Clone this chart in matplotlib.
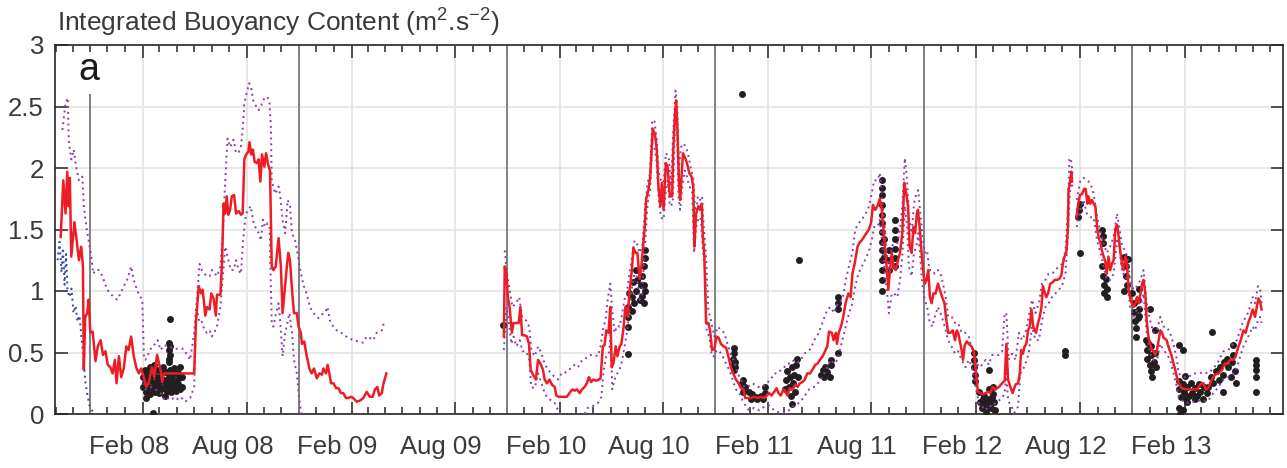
import numpy as np
import matplotlib
matplotlib.use("Agg")
import matplotlib.pyplot as plt
import matplotlib.dates as mdates
import matplotlib.transforms as mtransforms

plt.rcParams['font.family'] = ['Liberation Sans', 'DejaVu Sans']
plt.rcParams['mathtext.fontset'] = 'custom'
plt.rcParams['mathtext.rm'] = 'Liberation Sans'
plt.rcParams['mathtext.it'] = 'Liberation Sans'

# time axis: days since 2007-09-01
T0 = np.datetime64('2007-09-01')
NAN = np.nan

# red line: integrated buoyancy content (days, value)
red = np.array([
    [9, 1.44], [13.5, 1.90], [17.5, 1.63], [20.5, 1.97], [22.75, 1.69], [25, 1.92], [27.5, 1.28],
    [33, 1.56], [37, 1.41], [41, 1.25], [45, 1.36], [48, 1.20], [49.5, 0.36], [52, 0.79],
    [55.5, 0.82], [58, 0.93], [61, 0.66], [65, 0.67], [70, 0.43], [74, 0.55], [79, 0.60],
    [83, 0.48], [87.5, 0.51], [91.5, 0.40], [96, 0.38], [100, 0.33], [104, 0.44], [107, 0.25],
    [111, 0.47], [115, 0.30], [119.5, 0.37], [124, 0.55], [128, 0.52], [132.5, 0.63], [137, 0.47],
    [142, 0.37], [146, 0.33], [150, 0.37], [154.5, 0.30], [159, 0.22], [163, 0.25], [169, 0.38],
    [173, 0.30], [178, 0.48], [184, 0.36], [187, 0.26], [190, 0.33], [243, 0.33], [246, 0.74],
    [251, 1.04], [255, 0.98], [258, 1.01], [262.5, 0.80], [265.5, 0.87], [270, 0.85], [273, 0.98],
    [277, 0.94], [281, 0.80], [283, 0.97], [289, 0.97], [292, 1.25], [294.5, 1.71], [297.5, 1.63],
    [300, 1.77], [303, 1.62], [306, 1.66], [309, 1.77], [313, 1.78], [316.5, 1.63], [321, 1.65],
    [325, 1.62], [328, 1.63], [331, 2.07], [334, 2.11], [338, 2.13], [340, 2.21], [343, 2.11],
    [346, 2.15], [349, 2.05], [353, 2.04], [356, 2.07], [359, 1.89], [362, 2.11], [366, 2.01],
    [369, 2.12], [373, 2.02], [376, 1.98], [379, 1.20], [382, 1.17], [386, 1.20], [391, 1.43],
    [395, 1.20], [398, 0.82], [402.5, 1.05], [405.5, 1.20], [408, 1.31], [411, 1.25], [415, 0.98],
    [418, 0.82], [423, 0.82], [426, 0.71], [430, 0.66], [432, 0.57], [436, 0.59], [440, 0.48],
    [445, 0.37], [449, 0.33], [453, 0.37], [458, 0.29], [462.5, 0.33], [467, 0.32], [469.5, 0.37],
    [474, 0.33], [477, 0.40], [480, 0.33], [483, 0.25], [487, 0.25], [492, 0.21], [496, 0.21],
    [500, 0.17], [504.5, 0.17], [509, 0.13], [513, 0.13], [518, 0.14], [522, 0.13], [528, 0.10],
    [534, 0.11], [539.5, 0.13], [545.5, 0.18], [551, 0.14], [556, 0.14], [560, 0.20], [564, 0.22],
    [567.5, 0.15], [572, 0.17], [574.5, 0.24], [580, 0.33],
    [680, NAN],
    [786, 0.63], [787.5, 1.20], [790.5, 1.14], [793, 0.95], [796, 0.87], [800, 0.66], [803, 0.74],
    [808, 0.74], [812, 0.74], [815, 0.87], [818, 0.64], [822.5, 0.64], [826.5, 0.63], [830, 0.57],
    [833, 0.36], [837, 0.32], [842, 0.28], [846, 0.44], [850, 0.41], [854.5, 0.36], [857.5, 0.28],
    [861.5, 0.25], [866, 0.28], [870, 0.24], [875, 0.22], [878, 0.15], [882, 0.14], [889.5, 0.14],
    [896.5, 0.14], [901, 0.17], [906, 0.20], [910, 0.19], [914, 0.20], [919, 0.17], [923, 0.20],
    [927.5, 0.22], [931.5, 0.25], [935, 0.30], [939, 0.26], [943, 0.28], [948, 0.27], [952.5, 0.28],
    [955.5, 0.29], [959.5, 0.55], [962.5, 0.56], [965.5, 0.68], [969.5, 0.66], [972.5, 0.87],
    [975, 0.38], [978, 0.41], [982, 0.55], [985, 0.47], [989, 0.55], [992, 0.57], [996, 0.71],
    [999, 0.87], [1003, 0.79], [1006, 0.98], [1011, 1.20], [1013, 1.35], [1017, 1.31], [1020, 1.31],
    [1024, 1.10], [1027, 1.20], [1031, 1.41], [1033, 1.52], [1035.5, 1.75], [1039.5, 1.82],
    [1042.5, 1.93], [1047, 2.32], [1051, 2.27], [1054, 2.15], [1057, 1.85], [1060.5, 1.69],
    [1063, 1.88], [1066, 1.66], [1070, 2.04], [1073, 2.01], [1077, 1.77], [1081, 1.77], [1083, 2.15],
    [1086, 2.44], [1088, 2.55], [1090, 2.36], [1093, 1.88], [1095, 1.74], [1098, 1.96], [1100, 2.12],
    [1104, 2.08], [1107, 2.04], [1111, 1.96], [1115, 1.93], [1118, 1.85], [1120, 1.36], [1123, 1.63],
    [1127, 1.69], [1130, 1.66], [1133, 1.71], [1134.5, 1.47], [1137.5, 1.28], [1140.5, 0.74],
    [1144.5, 0.74], [1147.5, 0.68], [1151, 0.52], [1155, 0.53], [1159, 0.63], [1162.5, 0.62],
    [1166.5, 0.57], [1171, 0.55], [1175.5, 0.54], [1179.5, 0.47], [1184, 0.38], [1188, 0.33],
    [1193, 0.28], [1197.5, 0.25], [1201.5, 0.21], [1206, 0.20], [1209, 0.13], [1219, 0.13],
    [1225, 0.14], [1231, 0.13], [1237, 0.14], [1242.5, 0.13], [1246.5, 0.15], [1251, 0.17],
    [1255, 0.15], [1260, 0.18], [1264, 0.21], [1267.5, 0.17], [1271.5, 0.15], [1276, 0.20],
    [1279, 0.19], [1283, 0.15], [1287, 0.21], [1292, 0.20], [1297, 0.24], [1301, 0.22], [1305, 0.25],
    [1309.5, 0.26], [1313.5, 0.28], [1318, 0.33], [1323, 0.33], [1327, 0.36], [1332, 0.40],
    [1336, 0.41], [1340, 0.44], [1345, 0.47], [1349, 0.51], [1353, 0.55], [1356, 0.67], [1361, 0.66],
    [1364, 0.60], [1368, 0.66], [1370, 0.57], [1373, 0.66], [1377, 0.71], [1381, 0.79], [1385, 0.90],
    [1390, 0.98], [1394, 0.95], [1397, 1.14], [1401, 1.22], [1406, 1.36], [1409, 1.39], [1413, 1.41],
    [1417.5, 1.44], [1421.5, 1.47], [1426, 1.50], [1430, 1.56], [1433, 1.70], [1437, 1.66],
    [1441, 1.69], [1445, 1.75], [1448, 1.69], [1451, 1.52], [1454, 1.36], [1457, 1.20], [1460, 1.01],
    [1463, 1.17], [1466, 1.31], [1469, 1.20], [1473, 1.17], [1477, 1.25], [1480.5, 1.31],
    [1484.5, 1.47], [1488, 1.88], [1491.5, 1.79], [1494.5, 1.69], [1497.5, 1.36], [1501, 1.31],
    [1504, 1.52], [1507, 1.47], [1510, 1.63], [1512, 1.66], [1515, 1.52], [1518, 1.33], [1521, 1.17],
    [1524, 1.06], [1527, 1.09], [1530, 1.17], [1533, 0.95], [1536, 0.90], [1539, 0.98], [1543, 0.98],
    [1547, 1.06], [1550.5, 1.01], [1554.5, 0.95], [1558.5, 0.90], [1561, 0.79], [1565, 0.66],
    [1569, 0.66], [1573, 0.68], [1577, 0.60], [1580, 0.68], [1582.5, 0.66], [1585.5, 0.59],
    [1588.5, 0.52], [1591, 0.44], [1594, 0.56], [1597.5, 0.59], [1601, 0.57], [1606, 0.55],
    [1610, 0.51], [1613, 0.37], [1617, 0.18], [1622, 0.17], [1626, 0.16], [1630, 0.17], [1635, 0.18],
    [1639, 0.17], [1643, 0.22], [1648, 0.20], [1654, 0.22], [1659.5, 0.25], [1664, 0.27],
    [1667, 0.57], [1670, 0.28], [1674, 0.22], [1678, 0.17], [1683, 0.24], [1687.5, 0.25],
    [1690.5, 0.33], [1693, 0.52], [1696, 0.49], [1699, 0.55], [1702, 0.57], [1705, 0.68], [1708, 0.71],
    [1711, 0.85], [1714, 0.71], [1717, 0.68], [1719, 0.66], [1722.5, 0.74], [1725.5, 0.79],
    [1728.5, 0.87], [1731, 1.04], [1734, 0.99], [1737, 0.95], [1740, 0.98], [1744, 1.06], [1748, 1.07],
    [1752, 1.09], [1756, 1.09], [1760, 1.10], [1763.5, 1.13], [1766, 1.22], [1769, 1.28], [1772, 1.31],
    [1775, 1.52], [1776, 1.82], [1779, 1.90], [1781, 1.97], [1782, 1.89],
    [1786, NAN],
    [1790, 1.60], [1793, 1.71], [1796, 1.78], [1800, 1.79], [1803, 1.83], [1806, 1.83], [1809, 1.71],
    [1811, 1.77], [1814, 1.71], [1817, 1.74], [1820, 1.71], [1823, 1.69], [1826, 1.52], [1829, 1.43],
    [1832, 1.39], [1834.5, 1.33], [1837.5, 1.28], [1840.5, 1.24], [1843, 1.14], [1846, 1.28],
    [1849, 1.17], [1852, 1.22], [1855, 1.25], [1858, 1.50], [1861, 1.54], [1864, 1.44], [1867, 1.31],
    [1870, 1.21], [1872.5, 1.17], [1875.5, 1.28], [1878, 1.24], [1881, 1.04], [1884, 0.94],
    [1887, 0.90], [1890, 0.87], [1893, 0.90], [1896, 0.95], [1899, 0.90], [1902, 0.98], [1905, 1.06],
    [1907.5, 1.09], [1910.5, 0.98], [1913, 0.76], [1916, 0.63], [1919, 0.57], [1922, 0.52],
    [1925, 0.51], [1928, 0.48], [1931, 0.52], [1934, 0.60], [1937, 0.68], [1940, 0.66], [1942.5, 0.62],
    [1945.5, 0.61], [1948, 0.60], [1951, 0.55], [1954, 0.51], [1957, 0.47], [1960, 0.41], [1963, 0.36],
    [1966, 0.30], [1969, 0.25], [1974.5, 0.21], [1983, 0.20], [1992, 0.20], [2001, 0.20], [2007, 0.24],
    [2012.5, 0.25], [2016.5, 0.20], [2021, 0.21], [2027, 0.28], [2033, 0.32], [2039, 0.33],
    [2045, 0.36], [2050, 0.41], [2054, 0.41], [2059, 0.44], [2065, 0.44], [2069, 0.47], [2074, 0.55],
    [2078, 0.60], [2082.5, 0.68], [2086.5, 0.66], [2091, 0.74], [2095, 0.79], [2099, 0.85],
    [2103, 0.79], [2106, 0.87], [2109, 0.94], [2112, 0.91], [2114.5, 0.85],
])

# upper uncertainty bound (purple dotted)
upper = np.array([
    [12, 2.31], [17.5, 2.53], [21.5, 2.57], [23, 2.23], [27.5, 2.07], [32, 2.15], [36, 2.01],
    [41, 1.90], [47, 1.93], [49.5, 1.69], [54, 1.52], [58, 1.41], [62.5, 1.28], [66, 1.14], [70, 1.17],
    [76, 1.17], [80, 1.14], [84.5, 1.09], [90.5, 1.01], [96, 0.98], [102, 0.95], [108, 0.93],
    [114, 0.98], [119.5, 1.04], [125.5, 1.09], [132.5, 1.20], [137, 1.09], [142, 1.02], [146, 0.97],
    [152, 0.93], [155, 0.45], [157.5, 0.44], [163, 0.49], [169, 0.55], [175, 0.57], [179, 0.60],
    [184, 0.52], [190, 0.56], [198, 0.55], [210, 0.53], [224.5, 0.53], [236, 0.44], [243, 0.66],
    [248, 0.95], [252.5, 1.22], [256.5, 1.17], [261, 1.14], [265.5, 1.12], [270, 1.12], [274, 1.17],
    [278, 1.15], [283, 1.12], [289, 1.20], [293.5, 1.50], [297.5, 1.90], [301.5, 2.24], [306, 2.17],
    [312, 2.23], [316.5, 2.12], [321, 2.13], [325, 2.17], [328, 2.31], [331, 2.53], [335, 2.61],
    [339.5, 2.69], [343, 2.65], [347, 2.54], [352, 2.50], [356, 2.47], [360, 2.50], [363.5, 2.55],
    [367.5, 2.57], [371.5, 2.58], [375, 2.53], [377.5, 2.34], [379, 1.90], [385, 1.79], [391, 1.85],
    [394, 1.77], [398, 1.58], [402.5, 1.47], [407, 1.74], [411, 1.69], [414.5, 1.47], [420, 1.41],
    [424, 1.31], [429, 1.17], [434.5, 1.05], [440, 0.98], [446, 0.87], [452, 0.82], [461, 0.78],
    [467, 0.81], [472.5, 0.82], [476.5, 0.87], [481, 0.76], [487, 0.71], [493, 0.68], [499, 0.67],
    [506, 0.64], [513, 0.62], [522, 0.60], [531, 0.59], [539.5, 0.58], [545.5, 0.63], [551, 0.62],
    [557, 0.60], [563, 0.66], [572, 0.68], [576, 0.75],
    [680, NAN],
    [787.5, 1.33], [791.5, 1.14], [796, 1.01], [801, 0.87], [807, 0.90], [813, 0.95], [818, 0.79],
    [825, 0.76], [830.5, 0.71], [834, 0.52], [840, 0.47], [846, 0.55], [852, 0.49], [857.5, 0.41],
    [863, 0.36], [869, 0.33], [875, 0.30], [881, 0.28], [887, 0.33], [892.5, 0.33], [898, 0.36],
    [904, 0.37], [910, 0.40], [916, 0.38], [922, 0.43], [927.5, 0.44], [933, 0.47], [939, 0.48],
    [945, 0.48], [951, 0.47], [955.5, 0.55], [959.5, 0.68], [964, 0.76], [968, 0.93], [972.5, 1.06],
    [976, 0.85], [980, 0.66], [985, 0.72], [989, 0.71], [993.5, 0.82], [997.5, 0.93], [1001.5, 0.98],
    [1006, 1.14], [1011, 1.28], [1015, 1.41], [1019, 1.39], [1024, 1.31], [1028.5, 1.36], [1031, 1.50],
    [1034, 1.71], [1038, 1.88], [1042.5, 1.96], [1046, 2.39], [1050, 2.38], [1054, 2.23],
    [1057.5, 1.96], [1061.5, 1.90], [1066, 1.88], [1070, 2.12], [1075, 2.09], [1079, 1.85],
    [1083, 2.31], [1087, 2.63], [1090, 2.50], [1092.5, 1.98], [1096.5, 2.17], [1101, 2.20],
    [1105.5, 2.17], [1110, 2.09], [1114.5, 1.98], [1118, 1.93], [1122, 1.60], [1126, 1.77],
    [1130, 1.74], [1133.5, 1.77], [1136.5, 1.52], [1140.5, 1.28], [1144.5, 0.85], [1149, 0.76],
    [1155, 0.63], [1161, 0.71], [1167, 0.68], [1172.5, 0.66], [1178, 0.57], [1184, 0.48], [1190, 0.43],
    [1196, 0.33], [1201.5, 0.28], [1207.5, 0.22], [1213, 0.22], [1222, 0.25], [1231, 0.22],
    [1239.5, 0.22], [1246.5, 0.25], [1254, 0.28], [1260, 0.33], [1266, 0.33], [1272, 0.36],
    [1277.5, 0.38], [1283, 0.41], [1289, 0.41], [1295, 0.44], [1301, 0.42], [1306.5, 0.44],
    [1312.5, 0.49], [1318, 0.51], [1324, 0.53], [1330, 0.60], [1336, 0.64], [1342, 0.71],
    [1347.5, 0.78], [1353, 0.85], [1359, 0.87], [1365, 0.82], [1371, 0.90], [1379.5, 0.93],
    [1385.5, 1.09], [1391, 1.20], [1397, 1.31], [1402, 1.50], [1407.5, 1.55], [1413.5, 1.58],
    [1419, 1.62], [1425, 1.67], [1431, 1.79], [1435, 1.90], [1441, 1.90], [1445, 1.96], [1449.5, 1.74],
    [1454, 1.50], [1458, 1.28], [1461, 1.14], [1466, 1.36], [1470, 1.39], [1476, 1.39], [1480.5, 1.50],
    [1484.5, 1.69], [1489, 2.08], [1493, 1.90], [1496, 1.60], [1501, 1.47], [1505, 1.71], [1509, 1.79],
    [1512.5, 1.82], [1515.5, 1.66], [1519.5, 1.47], [1524, 1.31], [1528, 1.33], [1532, 1.17],
    [1537, 1.17], [1541.5, 1.14], [1547, 1.17], [1551.5, 1.14], [1556, 1.06], [1560.5, 0.95],
    [1565, 0.79], [1571, 0.79], [1577, 0.74], [1582.5, 0.74], [1588.5, 0.66], [1595.5, 0.66],
    [1601, 0.63], [1607, 0.52], [1613, 0.44], [1619, 0.38], [1624.5, 0.40], [1630.5, 0.44],
    [1636, 0.40], [1642, 0.48], [1648, 0.48], [1654, 0.48], [1659.5, 0.51], [1664, 0.82], [1667, 0.82],
    [1671, 0.44], [1677, 0.49], [1683, 0.44], [1689, 0.66], [1694.5, 0.60], [1700.5, 0.66],
    [1706, 0.79], [1712, 0.93], [1718, 0.82], [1724, 0.90], [1729.5, 1.06], [1735.5, 1.09],
    [1741, 1.14], [1747, 1.14], [1753, 1.17], [1759, 1.20], [1764.5, 1.22], [1770.5, 1.33],
    [1774.5, 1.63], [1777.5, 2.07], [1780, 2.08], [1783, 1.96],
    [1786, NAN],
    [1790.5, 1.74], [1796.5, 1.89], [1802.5, 1.92], [1808, 1.90], [1814, 1.88], [1820, 1.79],
    [1826, 1.60], [1832, 1.48], [1837.5, 1.39], [1843, 1.31], [1849, 1.36], [1855, 1.44], [1861, 1.63],
    [1865, 1.52], [1870, 1.36], [1875.5, 1.33], [1880, 1.25], [1884, 1.09], [1890, 1.01], [1896, 1.04],
    [1902, 1.09], [1907.5, 1.17], [1913, 0.90], [1919, 0.76], [1925, 0.66], [1931, 0.68], [1937, 0.79],
    [1942.5, 0.71], [1948, 0.71], [1954, 0.66], [1960, 0.57], [1966, 0.44], [1969, 0.33],
    [1977.5, 0.30], [1986, 0.30], [1995, 0.33], [2004, 0.33], [2012.5, 0.34], [2021, 0.33],
    [2030, 0.37], [2039, 0.43], [2047.5, 0.51], [2056, 0.52], [2065, 0.57], [2071, 0.60], [2077, 0.68],
    [2082.5, 0.76], [2088, 0.79], [2094, 0.87], [2099, 0.95], [2103, 0.90], [2108, 1.04], [2112, 1.01],
    [2114.5, 0.90],
])

# lower uncertainty bound (purple dotted)
lower = np.array([
    [155, 0.25], [157.5, 0.20], [166, 0.22], [175, 0.20], [184, 0.17], [192.5, 0.11], [201, 0.14],
    [210, 0.11], [219, 0.14], [227.5, 0.10], [236, 0.13], [243, 0.22], [246, 0.82], [249, 0.82],
    [252.5, 0.74], [256.5, 0.75], [261, 0.68], [265.5, 0.66], [270, 0.68], [274, 0.63], [278, 0.66],
    [283, 0.71], [289, 0.87], [293.5, 1.14], [297.5, 1.36], [303, 1.25], [307, 1.17], [312, 1.17],
    [316.5, 1.25], [321, 1.17], [325, 1.14], [328, 1.36], [331, 1.52], [334, 1.63], [338, 1.66],
    [342, 1.69], [347, 1.56], [352, 1.50], [356, 1.47], [360, 1.41], [363.5, 1.58], [367.5, 1.52],
    [371.5, 1.55], [375, 1.52], [377.5, 1.04], [379, 0.74], [382, 0.71], [386.5, 0.82], [391, 0.90],
    [394, 0.74], [398, 0.47], [402.5, 0.66], [406.5, 0.74], [410, 0.82], [414.5, 0.66], [418, 0.44],
    [423, 0.33], [426, 0.17], [429, 0.06], [431.5, 0.0], [437.5, -0.05],
    [680, NAN],
    [786, 0.52], [790.5, 0.87], [795, 0.74], [799, 0.57], [803, 0.63], [808, 0.55], [814, 0.60],
    [818.5, 0.51], [825, 0.51], [830.5, 0.44], [834, 0.22], [840, 0.21], [846, 0.33], [852, 0.25],
    [857.5, 0.17], [863, 0.13], [869, 0.11], [875, 0.09], [881, 0.03], [887, -0.01], [895.5, -0.04],
    [907, -0.01], [919, -0.02], [927.5, 0.0], [933, 0.05], [939, 0.06], [945, 0.07], [951, 0.09],
    [957, 0.14], [961, 0.36], [965.5, 0.47], [970, 0.49], [973.5, 0.66], [976, 0.20], [980, 0.28],
    [985, 0.33], [989, 0.36], [993.5, 0.44], [997.5, 0.55], [1001.5, 0.66], [1006, 0.82], [1011, 1.04],
    [1015, 1.14], [1019, 1.12], [1024, 0.93], [1028.5, 0.98], [1031, 1.20], [1034, 1.41], [1038, 1.71],
    [1042.5, 1.82], [1046, 2.20], [1050, 2.17], [1054, 2.04], [1057.5, 1.74], [1061.5, 1.60],
    [1066, 1.58], [1070, 1.82], [1073, 1.90], [1077, 1.69], [1082, 1.71], [1086, 2.34], [1089, 2.44],
    [1092, 1.77], [1095, 1.66], [1099, 1.85], [1103, 1.98], [1107, 1.93], [1111, 1.85], [1116, 1.82],
    [1119.5, 1.31], [1123, 1.52], [1127.5, 1.60], [1131.5, 1.58], [1134.5, 1.36], [1139, 1.14],
    [1141.5, 0.68], [1146, 0.63], [1150.5, 0.47], [1155, 0.47], [1159, 0.52], [1164, 0.51],
    [1169.5, 0.47], [1175.5, 0.41], [1181, 0.36], [1187, 0.28], [1193, 0.20], [1199, 0.17],
    [1204.5, 0.11], [1210.5, 0.06], [1216, 0.03], [1225, 0.05], [1234, 0.03], [1242.5, 0.06],
    [1251, 0.07], [1260, 0.03], [1269, 0.01], [1277.5, 0.01], [1286, 0.03], [1295, 0.07], [1304, 0.09],
    [1312.5, 0.14], [1321, 0.20], [1330, 0.22], [1339, 0.26], [1347.5, 0.33], [1353, 0.38],
    [1359, 0.44], [1365, 0.41], [1371, 0.44], [1379.5, 0.60], [1385.5, 0.71], [1391, 0.82],
    [1397, 0.90], [1402, 1.04], [1407.5, 1.14], [1413.5, 1.20], [1419, 1.25], [1425, 1.31],
    [1431, 1.41], [1435, 1.52], [1441, 1.52], [1445, 1.58], [1449.5, 1.39], [1454, 1.14], [1458, 0.98],
    [1461, 0.82], [1466, 0.98], [1470, 0.98], [1476, 0.95], [1480.5, 1.09], [1484.5, 1.28],
    [1489, 1.69], [1493, 1.52], [1496, 1.20], [1501, 1.12], [1505, 1.31], [1509, 1.36], [1512.5, 1.47],
    [1515.5, 1.31], [1519.5, 1.06], [1524, 0.93], [1528, 0.87], [1532, 0.76], [1537, 0.71],
    [1541.5, 0.79], [1547, 0.87], [1551.5, 0.82], [1556, 0.76], [1560.5, 0.68], [1565, 0.60],
    [1571, 0.55], [1577, 0.49], [1582.5, 0.51], [1588.5, 0.44], [1595.5, 0.38], [1601, 0.44],
    [1607, 0.38], [1613, 0.22], [1619, 0.09], [1624.5, 0.06], [1630.5, 0.03], [1636, 0.07],
    [1642, 0.06], [1648, 0.09], [1654, 0.11], [1659.5, 0.13], [1664, 0.17], [1667, 0.33], [1670, 0.11],
    [1676, 0.06], [1681, 0.01], [1687.5, 0.06], [1691.5, 0.33], [1696, 0.36], [1700.5, 0.41],
    [1706, 0.49], [1712, 0.71], [1718, 0.60], [1724, 0.60], [1729.5, 0.76], [1735.5, 0.87],
    [1741, 0.90], [1747, 0.95], [1753, 0.98], [1759, 1.01], [1764.5, 1.04], [1770.5, 1.14],
    [1774.5, 1.41], [1777.5, 1.74], [1780, 1.88], [1783, 1.85],
    [1786, NAN],
    [1790.5, 1.52], [1796.5, 1.66], [1802.5, 1.74], [1808, 1.63], [1814, 1.60], [1820, 1.60],
    [1826, 1.41], [1832, 1.31], [1837.5, 1.20], [1843, 1.09], [1849, 1.09], [1855, 1.14], [1861, 1.41],
    [1865, 1.36], [1870, 1.14], [1875.5, 1.14], [1880, 1.06], [1884, 0.87], [1890, 0.79], [1896, 0.85],
    [1902, 0.87], [1907.5, 0.98], [1913, 0.66], [1919, 0.49], [1925, 0.44], [1931, 0.44], [1937, 0.57],
    [1942.5, 0.52], [1948, 0.49], [1954, 0.44], [1960, 0.33], [1966, 0.22], [1969, 0.14],
    [1977.5, 0.10], [1986, 0.09], [1995, 0.10], [2004, 0.11], [2012.5, 0.10], [2021, 0.11],
    [2030, 0.17], [2039, 0.22], [2047.5, 0.28], [2056, 0.30], [2065, 0.33], [2071, 0.38], [2077, 0.47],
    [2082.5, 0.55], [2088, 0.60], [2094, 0.66], [2099, 0.71], [2103, 0.68], [2108, 0.76], [2112, 0.79],
    [2114.5, 0.74],
])

# early lower bound (blue dotted)
blue = np.array([
    [3.5, 1.25], [7, 1.40], [10.5, 1.15], [13, 1.35], [15.75, 1.05], [18.4, 1.30], [21, 1.00],
    [24.5, 0.95], [28, 1.02], [31.5, 0.82], [35, 0.88], [38.5, 0.75], [42, 0.80], [45.5, 0.62],
    [49, 0.45], [52.5, 0.25], [56, 0.15], [59.5, 0.07], [65, 0.02], [72, -0.05],
])

# observations (black dots)
obs = np.array([
    [154, 0.22], [154, 0.30], [156, 0.36], [159, 0.18], [159, 0.27], [161, 0.33], [163, 0.22],
    [165, 0.38], [166, 0.16], [166, 0.28], [170, 0.20], [170, 0.34], [172, 0.25], [173, 0.40],
    [175, 0.18], [177, 0.30], [179, 0.23], [180, 0.36], [182, 0.17], [184, 0.27], [186, 0.33],
    [187, 0.21], [189, 0.38], [191, 0.15], [191, 0.28], [194, 0.24], [194, 0.34], [196, 0.19],
    [198, 0.30], [198, 0.42], [200, 0.48], [200, 0.55], [201, 0.36], [201, 0.25], [203, 0.18],
    [205, 0.31], [207, 0.22], [208, 0.37], [210, 0.27], [212, 0.19], [214, 0.33], [215, 0.24],
    [217, 0.29], [219, 0.38], [221, 0.22], [222, 0.30], [158, 0.13], [170, 0.01], [201, 0.77],
    [157, 0.25], [168, 0.31], [176, 0.26], [185, 0.20], [193, 0.20], [204, 0.26], [211, 0.33],
    [218, 0.20], [200, 0.20], [188, 0.28], [180, 0.21], [163, 0.31], [199, 0.45], [199, 0.52],
    [199, 0.58],
    [785, 0.72],
    [1004, 0.49], [1004, 0.71], [1004, 0.79], [1004, 0.87], [1006, 0.98], [1010, 0.84], [1010, 0.95],
    [1012, 1.07], [1015, 0.90], [1017, 1.00], [1018, 1.17], [1020, 1.09], [1024, 0.93], [1026, 1.05],
    [1029, 0.96], [1029, 1.12], [1032, 1.20], [1032, 1.05], [1034, 1.27], [1034, 1.33], [1034, 1.00],
    [1031, 0.90],
    [1187, 0.40], [1188, 0.45], [1189, 0.50], [1190, 0.54], [1191, 0.42], [1192, 0.38], [1189, 0.36],
    [1204, 0.25], [1206, 0.18], [1208, 0.22], [1216, 0.18], [1220, 0.12], [1221, 0.16], [1228, 0.14],
    [1230, 0.12], [1237, 0.15], [1241, 0.12], [1244, 0.17], [1206, 0.28], [1243, 0.22],
    [1279, 0.20], [1281, 0.28], [1283, 0.35], [1286, 0.22], [1288, 0.30], [1291, 0.38], [1293, 0.25],
    [1295, 0.32], [1298, 0.40], [1300, 0.45], [1302, 0.30], [1297, 0.18], [1290, 0.15], [1291, 0.08],
    [1342, 0.32], [1346, 0.36], [1348, 0.30], [1349, 0.38], [1353, 0.34], [1357, 0.30], [1359, 0.40],
    [1360, 0.44], [1372, 0.85], [1372, 0.90], [1372, 0.95], [1372, 0.50],
    [1204, 2.60], [1304, 1.25],
    [1449, 1.90], [1449, 1.84], [1449, 1.78], [1449, 1.70], [1449, 1.62], [1449, 1.55], [1449, 1.48],
    [1449, 1.40], [1449, 1.33], [1449, 1.25], [1449, 1.17], [1449, 1.09], [1449, 1.00], [1452, 1.42],
    [1452, 1.28], [1461, 1.33], [1461, 1.25], [1461, 1.17], [1472, 1.58], [1472, 1.50], [1472, 1.42],
    [1472, 1.34], [1472, 1.27], [1472, 1.20],
    [1610, 0.50], [1610, 0.44], [1610, 0.38], [1612, 0.32], [1612, 0.27], [1619, 0.18], [1621, 0.10],
    [1624, 0.05], [1628, 0.15], [1629, 0.08], [1631, 0.02], [1633, 0.12], [1636, 0.20], [1636, 0.36],
    [1640, 0.05], [1642, 0.14], [1643, 0.22], [1645, 0.10], [1647, 0.03], [1626, 0.12], [1634, 0.06],
    [1638, 0.10], [1644, 0.16],
    [1769, 0.48], [1769, 0.51],
    [1792, 1.60], [1794, 1.66], [1796, 1.71], [1796, 1.31],
    [1834, 1.50], [1836, 1.45], [1836, 1.39], [1834, 1.20], [1836, 1.12], [1838, 1.05], [1839, 0.98],
    [1841, 1.10], [1843, 1.02], [1843, 0.95],
    [1874, 1.28], [1876, 1.20], [1876, 1.12], [1878, 1.05], [1874, 1.00], [1880, 1.26],
    [1888, 0.98], [1890, 0.90], [1890, 0.83], [1892, 0.76], [1894, 0.70], [1897, 0.93], [1899, 0.85],
    [1900, 0.80], [1897, 0.78], [1895, 0.63], [1899, 1.02], [1919, 0.85],
    [1911, 0.60], [1913, 0.52], [1914, 0.45], [1916, 0.58], [1918, 0.40], [1920, 0.35], [1921, 0.48],
    [1923, 0.30], [1925, 0.42], [1927, 0.50], [1921, 0.55], [1930, 0.38], [1928, 0.68],
    [1969, 0.27], [1970, 0.20], [1974, 0.14], [1976, 0.24], [1979, 0.18], [1983, 0.10], [1984, 0.22],
    [1988, 0.15], [1991, 0.25], [1993, 0.17], [1997, 0.12], [1998, 0.21], [2002, 0.15], [2005, 0.24],
    [2007, 0.18], [2011, 0.12], [2014, 0.22], [2018, 0.17], [1969, 0.05], [1972, 0.00], [1977, 0.03],
    [1970, 0.56], [1977, 0.52], [1981, 0.31], [1981, 0.13],
    [2021, 0.22], [2025, 0.30], [2030, 0.25], [2035, 0.35], [2039, 0.28], [2042, 0.38], [2046, 0.32],
    [2049, 0.42], [2053, 0.45], [2056, 0.38], [2060, 0.30], [2063, 0.42], [2065, 0.48], [2067, 0.35],
    [2070, 0.25], [2065, 0.56], [2047, 0.18], [2028, 0.67],
    [2105, 0.44], [2105, 0.40], [2105, 0.36], [2105, 0.30], [2105, 0.18],
])

# seasonal marker lines
season_dates = ['2007-11-01', '2008-11-01', '2009-11-01', '2010-11-01', '2011-11-01', '2012-11-01']
season_tops = [2.6, 3, 3, 3, 3, 3]

x_start, x_end = '2007-08-31', '2013-07-23'
yticks = [0, 0.5, 1, 1.5, 2, 2.5, 3]

base = mdates.date2num(T0)


def tx(arr):
    return base + arr[:, 0]


fig = plt.figure(figsize=(12.87, 4.68), dpi=100)
ax = fig.add_axes([55 / 1287, 54 / 468, 1228 / 1287, 369 / 468])

txt = '#3a3a3a'
ax.vlines(mdates.date2num(np.array(season_dates, dtype='datetime64[D]')), 0, season_tops,
          color='#808080', lw=1.4, zorder=1)
ax.plot(tx(blue), blue[:, 1], ls=(0, (1, 2)), color='#3545a8', lw=1.4, zorder=2)
ax.plot(tx(obs), obs[:, 1], 'o', color='#231f20', ms=5, mec='none', zorder=3)
ax.plot(tx(upper), upper[:, 1], ls=(0, (1, 2)), color='#8b3fa8', lw=1.4, zorder=4)
ax.plot(tx(lower), lower[:, 1], ls=(0, (1, 2)), color='#8b3fa8', lw=1.4, zorder=4)
ax.plot(tx(red), red[:, 1], color='#ee1c25', lw=1.8, zorder=5)

ax.set_xlim(mdates.date2num(np.datetime64(x_start)), mdates.date2num(np.datetime64(x_end)))
ax.set_ylim(0, 3)
ax.set_yticks(yticks)
ax.set_yticklabels(['0', '0.5', '1', '1.5', '2', '2.5', '3'])
ax.xaxis.set_major_locator(mdates.MonthLocator(bymonth=[2, 8]))
ax.xaxis.set_major_formatter(mdates.DateFormatter('%b %y'))
ax.xaxis.set_minor_locator(mdates.MonthLocator())

ax.grid(True, which='major', color='#e3e3e3', lw=1.2, zorder=0)
ax.set_axisbelow(True)
ax.tick_params(which='both', direction='in', top=True, right=True, width=1.1, color='#262626',
               labelcolor=txt, labelsize=18.5)
ax.tick_params(which='major', length=9)
ax.tick_params(which='minor', length=5)
ax.tick_params(axis='x', pad=15)
ax.tick_params(axis='y', pad=8)
for s in ax.spines.values():
    s.set_color('#262626')
    s.set_linewidth(1.2)

fig.text(57 / 1287, 1 - 32 / 468, 'Integrated Buoyancy Content (m$^{2}$.s$^{-2}$)',
         fontsize=19, color=txt, ha='left', va='baseline')
ax.text(0.0187, 0.905, 'a', transform=ax.transAxes, fontsize=27, color='#1a1a1a',
        ha='left', va='baseline')

fig.canvas.draw()
shift = mtransforms.ScaledTranslation(-14 / 100, 0, fig.dpi_scale_trans)
for lbl in ax.get_xticklabels():
    lbl.set_transform(lbl.get_transform() + shift)

fig.savefig('out.png', dpi=100)
